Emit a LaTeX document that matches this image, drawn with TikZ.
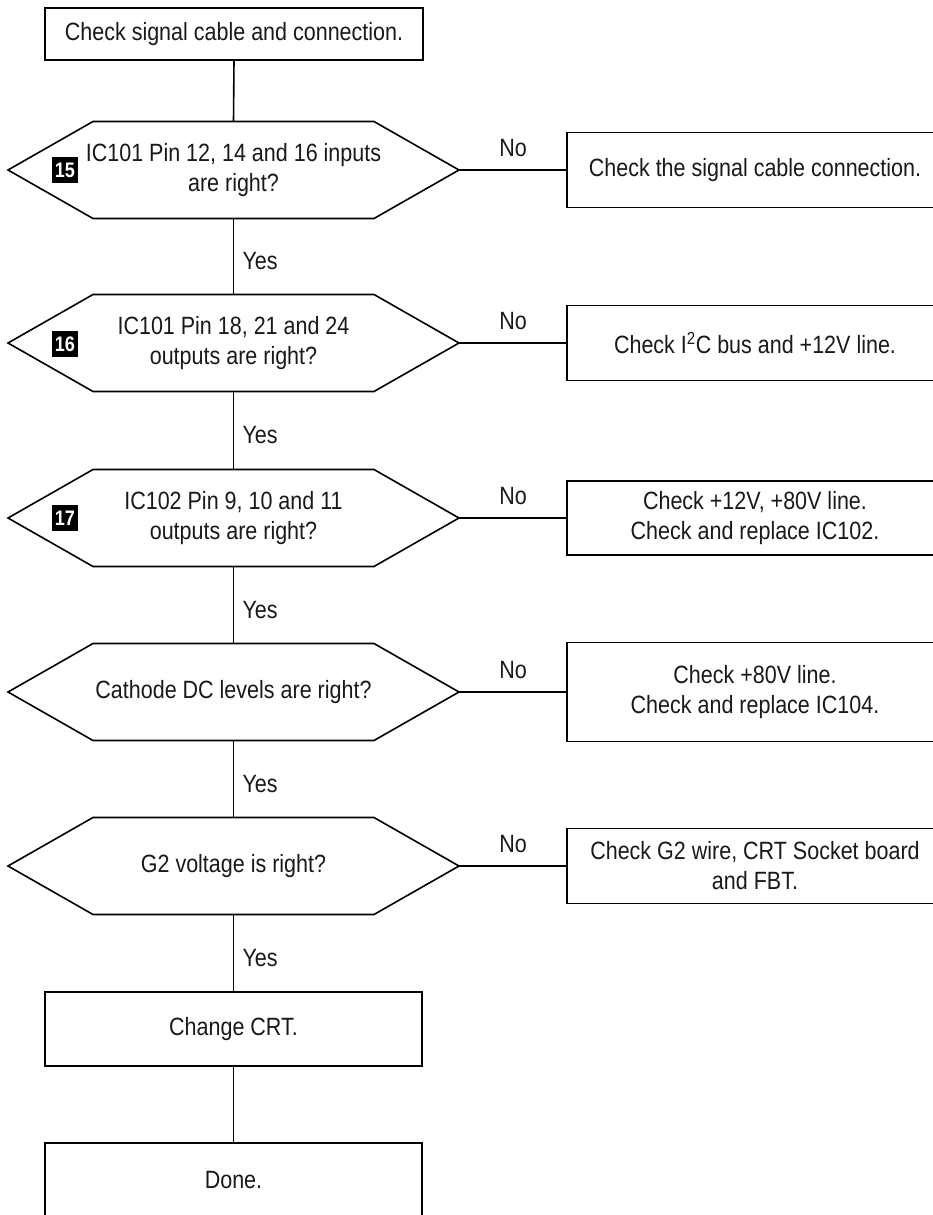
\documentclass[tikz,border=0pt]{standalone}
\usepackage{fontspec}
\setmainfont{Liberation Sans}[FakeStretch=0.86]
\begin{document}
\begin{tikzpicture}[x=1pt,y=-1pt, line width=1.6pt,
  every node/.style={font=\fontsize{25}{30}\selectfont, outer sep=0pt, text=black!90},
  box/.style={draw, rectangle, inner sep=0pt, align=center, minimum width=#1},
  box/.default=378pt,
  hextext/.style={rectangle, inner sep=0pt, align=center, minimum width=451pt, minimum height=97pt},
  badge/.style={fill=black, text=white, inner sep=0pt, minimum width=26pt, minimum height=26pt,
    font=\fontsize{21}{21}\selectfont\bfseries},
  nolabel/.style={yshift=22pt},
  yeslabel/.style={anchor=west, inner sep=0pt, xshift=9pt, yshift=-5pt}
]
\useasboundingbox (0,0) rectangle (933,1215);
\clip (0,0) rectangle (933,1215);

% left column
\node[box, minimum height=52pt] (top) at (234,34) {Check signal cable and connection.};
\node[hextext] (h1) at (233.5,170) {IC101 Pin 12, 14 and 16 inputs\\are right?};
\node[hextext] (h2) at (233.5,343) {IC101 Pin 18, 21 and 24\\outputs are right?};
\node[hextext] (h3) at (233.5,518) {IC102 Pin 9, 10 and 11\\outputs are right?};
\node[hextext] (h4) at (233.5,692) {Cathode DC levels are right?};
\node[hextext] (h5) at (233.5,866) {G2 voltage is right?};
\node[box=377pt, minimum height=74pt] (crt) at (233.5,1029) {Change CRT.};
\node[box=377pt, minimum height=74pt] (done) at (233.5,1180) {Done.};

% hexagon outlines
\foreach \n in {h1,h2,h3,h4,h5}{
  \draw[line join=miter] (\n.west) -- ([xshift=85pt]\n.north west) -- ([xshift=-85pt]\n.north east)
    -- (\n.east) -- ([xshift=-85pt]\n.south east) -- ([xshift=85pt]\n.south west) -- cycle;
}

% badges
\node[badge] (b15) at (65,170) {15};
\node[badge] (b16) at (65,344) {16};
\node[badge] (b17) at (65,518) {17};

% right column
\node[box=376pt, minimum height=75pt] (r1) at (755,170) {Check the signal cable connection.};
\node[box=376pt, minimum height=75pt] (r2) at (755,343) {Check I\textsuperscript{2}C bus and +12V line.};
\node[box=376pt, minimum height=74pt] (r3) at (755,518) {Check +12V, +80V line.\\Check and replace IC102.};
\node[box=376pt, minimum height=99pt] (r4) at (755,692) {Check +80V line.\\Check and replace IC104.};
\node[box=376pt, minimum height=75pt] (r5) at (755,866) {Check G2 wire, CRT Socket board\\and FBT.};

% vertical connectors
\draw (top.south) -- (h1.north);
\draw (h1.south) -- node[yeslabel] {Yes} (h2.north);
\draw (h2.south) -- node[yeslabel] {Yes} (h3.north);
\draw (h3.south) -- node[yeslabel] {Yes} (h4.north);
\draw (h4.south) -- node[yeslabel] {Yes} (h5.north);
\draw (h5.south) -- node[yeslabel] {Yes} (crt.north);
\draw (crt.south) -- (done.north);

% horizontal connectors
\draw (h1.east) -- node[nolabel] {No} (r1.west);
\draw (h2.east) -- node[nolabel] {No} (r2.west);
\draw (h3.east) -- node[nolabel] {No} (r3.west);
\draw (h4.east) -- node[nolabel] {No} (r4.west);
\draw (h5.east) -- node[nolabel] {No} (r5.west);
\end{tikzpicture}
\end{document}
